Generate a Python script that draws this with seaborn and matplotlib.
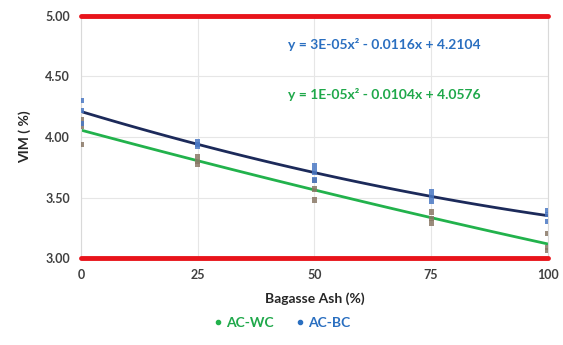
import numpy as np
import pandas as pd
import matplotlib
matplotlib.use('Agg')
import matplotlib.pyplot as plt
from matplotlib.lines import Line2D
import seaborn as sns

# data (three replicates per ash content)
ash = [0, 25, 50, 75, 100]
ac_wc = [[4.14, 4.09, 3.94], [3.84, 3.80, 3.77], [3.64, 3.57, 3.48], [3.38, 3.33, 3.29], [3.20, 3.09, 3.06]]
ac_bc = [[4.30, 4.22, 4.11], [3.96, 3.94, 3.92], [3.76, 3.71, 3.645], [3.55, 3.51, 3.47], [3.39, 3.36, 3.30]]
eq_bc = 'y = 3E-05x² - 0.0116x + 4.2104'
eq_wc = 'y = 1E-05x² - 0.0104x + 4.0576'

rows = []
for name, vals in [('AC-WC', ac_wc), ('AC-BC', ac_bc)]:
    for a, reps in zip(ash, vals):
        for v in reps:
            rows.append({'ash': a, 'vim': v, 'mix': name})
df = pd.DataFrame(rows)

sns.set_style('white')
plt.rcParams['font.family'] = ['Lato', 'DejaVu Sans']

fig = plt.figure(figsize=(5.63, 3.45), dpi=100)
ax = fig.add_axes([0.144, 0.252, 0.829, 0.702])

marker_col = {'AC-WC': '#8a7866', 'AC-BC': '#4a78c4'}
line_col = {'AC-WC': '#22b24c', 'AC-BC': '#1c2a5a'}
text_col = {'AC-WC': '#1fa84a', 'AC-BC': '#2a6fc0'}

sns.scatterplot(data=df, x='ash', y='vim', hue='mix', palette=marker_col, marker='s',
                s=14, edgecolor='none', alpha=0.85, legend=False, ax=ax, zorder=3)
for name in ['AC-WC', 'AC-BC']:
    sns.regplot(data=df[df['mix'] == name], x='ash', y='vim', order=2, ci=None, scatter=False,
                line_kws={'color': line_col[name], 'lw': 2}, ax=ax)

ax.set_xlim(0, 100)
ax.set_ylim(3.0, 5.0)
ax.set_xticks(ash)
ax.set_yticks([3.0, 3.5, 4.0, 4.5, 5.0])
ax.set_yticklabels(['3.00', '3.50', '4.00', '4.50', '5.00'])
ax.grid(True, color='#e6e6e6', lw=0.8)
for s in ['top', 'bottom']:
    ax.spines[s].set_visible(False)
for s in ['left', 'right']:
    ax.spines[s].set_color('#d9d9d9')
ax.axhline(5.0, color='#e8141b', lw=3.5, clip_on=False, zorder=4)
ax.axhline(3.0, color='#e8141b', lw=3.5, clip_on=False, zorder=4)

ax.tick_params(axis='both', length=0, labelsize=9, labelcolor='#404040', pad=8)
for lab in ax.get_xticklabels() + ax.get_yticklabels():
    lab.set_fontweight('bold')
ax.set_xlabel('Bagasse Ash (%)', fontsize=10, fontweight='bold', color='#262626', labelpad=8)
ax.set_ylabel('VIM ( %)', fontsize=10, fontweight='bold', color='#262626', labelpad=10)

ax.text(65, 4.76, eq_bc, color=text_col['AC-BC'], fontsize=10, fontweight='bold', ha='center', va='center')
ax.text(65, 4.35, eq_wc, color=text_col['AC-WC'], fontsize=10, fontweight='bold', ha='center', va='center')

handles = [Line2D([], [], ls='none', marker='o', ms=3, color=line_col['AC-WC']),
           Line2D([], [], ls='none', marker='o', ms=3, color=text_col['AC-BC'])]
leg = fig.legend(handles, ['AC-WC', 'AC-BC'], loc='center', bbox_to_anchor=(0.5, 0.065), ncol=2,
                 frameon=False, fontsize=10, handletextpad=0.2, columnspacing=1.5, handlelength=0.8)
for t, name in zip(leg.get_texts(), ['AC-WC', 'AC-BC']):
    t.set_color(text_col[name])
    t.set_fontweight('bold')

fig.savefig('out.png', dpi=100)
